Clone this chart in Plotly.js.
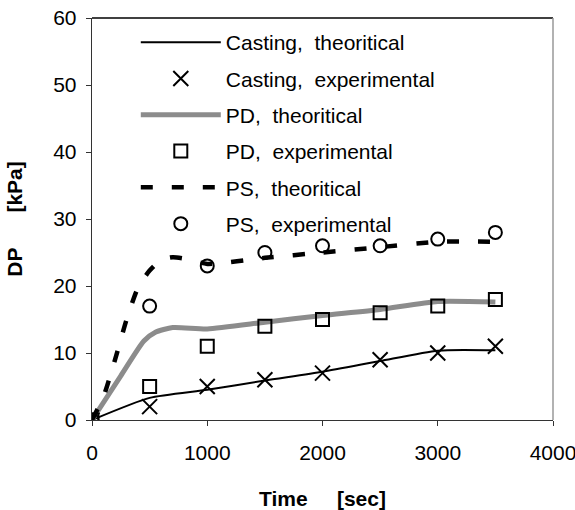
<!DOCTYPE html>
<html>
<head>
<meta charset="utf-8">
<script src="https://cdn.plot.ly/plotly-3.0.1.min.js"></script>
<style>html,body{margin:0;padding:0;background:#fff;}#chart{width:575px;height:510px;}</style>
</head>
<body>
<div id="chart"></div>
<script>
// Experimental data
var tExp = [0, 500, 1000, 1500, 2000, 2500, 3000, 3500];
var castingExp = [0, 2, 5, 6, 7, 9, 10, 11];
var pdExp = [0, 5, 11, 14, 15, 16, 17, 18];
var psExp = [0, 17, 23, 25, 26, 26, 27, 28];

// Theoretical curves
var tCastTheo = [0, 500, 1000, 1500, 2000, 2500, 3000, 3500];
var castingTheo = [0, 3.3, 4.5, 5.9, 7.2, 8.8, 10.35, 10.4];
var tPdTheo = [0, 250, 450, 550, 700, 1000, 1500, 2000, 2500, 3000, 3500];
var pdTheo = [0, 6.6, 11.8, 13.1, 13.8, 13.6, 14.6, 15.6, 16.5, 17.7, 17.6];
var tPsTheo = [0, 100, 200, 300, 400, 500, 600, 700, 800, 1000, 1500, 2000, 2500, 3000, 3500];
var psTheo = [0, 3.5, 9, 15, 19.8, 22.3, 23.9, 24.3, 24.1, 23.3, 24.2, 25, 25.8, 26.6, 26.6];

// Axis ticks
var xTicks = [0, 1000, 2000, 3000, 4000];
var yTicks = [0, 10, 20, 30, 40, 50, 60];

var names = ['Casting,\u00a0 theoritical', 'Casting,\u00a0 experimental', 'PD,\u00a0 theoritical',
             'PD,\u00a0 experimental', 'PS,\u00a0 theoritical', 'PS,\u00a0 experimental'];

var FONT = '"Liberation Sans", Arial, sans-serif';

var traces = [
  {x: tCastTheo, y: castingTheo, name: names[0], mode: 'lines', legendgroup: 'g1',
   line: {color: '#000', width: 2, shape: 'spline', smoothing: 0.6}},
  {x: tExp, y: castingExp, name: names[1], mode: 'markers', legendgroup: 'g2',
   marker: {symbol: 'x-thin-open', size: 15, color: '#000', line: {color: '#000', width: 2}}},
  {x: tPdTheo, y: pdTheo, name: names[2], mode: 'lines', legendgroup: 'g3',
   line: {color: '#8c8c8c', width: 5, shape: 'spline', smoothing: 0.6}},
  {x: tExp, y: pdExp, name: names[3], mode: 'markers', legendgroup: 'g4',
   marker: {symbol: 'square-open', size: 13, color: '#000', line: {color: '#000', width: 2}}},
  {x: tPsTheo, y: psTheo, name: names[4], mode: 'lines', legendgroup: 'g5',
   line: {color: '#000', width: 4.5, dash: '12px,19px', shape: 'spline', smoothing: 0.6}},
  {x: tExp, y: psExp, name: names[5], mode: 'markers', legendgroup: 'g6',
   marker: {symbol: 'circle-open', size: 13, color: '#000', line: {color: '#000', width: 2}}}
];

var layout = {
  width: 575, height: 510,
  margin: {l: 92, r: 22, t: 18, b: 90},
  paper_bgcolor: '#fff', plot_bgcolor: '#fff',
  font: {family: FONT, size: 21, color: '#000'},
  showlegend: true,
  legend: {x: 0.095, y: 0.99, xanchor: 'left', yanchor: 'top', bgcolor: 'rgba(0,0,0,0)',
           borderwidth: 0, itemwidth: 80, tracegroupgap: 6, font: {family: FONT, size: 21, color: '#000'}},
  xaxis: {range: [0, 4000], tickmode: 'array', tickvals: xTicks, ticktext: xTicks.map(String),
          ticks: 'outside', ticklen: 5, tickcolor: '#333', ticklabelstandoff: 8, ticklabeloverflow: 'allow',
          showline: true, linecolor: '#333', linewidth: 1.3, showgrid: false, zeroline: false,
          tickfont: {family: FONT, size: 21, color: '#000'},
          title: {text: '<b>Time\u00a0\u00a0\u00a0\u00a0\u00a0[sec]</b>', font: {family: FONT, size: 21, color: '#000'}, standoff: 28}},
  yaxis: {range: [0, 60], tickmode: 'array', tickvals: yTicks, ticktext: yTicks.map(String),
          ticks: 'outside', ticklen: 5, tickcolor: '#333', ticklabelstandoff: 5, ticklabeloverflow: 'allow',
          showline: true, linecolor: '#333', linewidth: 1.3, showgrid: false, zeroline: false,
          tickfont: {family: FONT, size: 21, color: '#000'},
          title: {text: '<b>DP\u00a0\u00a0\u00a0\u00a0\u00a0\u00a0[kPa]</b>', font: {family: FONT, size: 21, color: '#000'}, standoff: 24}},
  shapes: [
    {type: 'line', xref: 'paper', yref: 'paper', x0: 0, x1: 1, y0: 1, y1: 1, line: {color: '#000', width: 1.3}},
    {type: 'line', xref: 'paper', yref: 'paper', x0: 1, x1: 1, y0: 0, y1: 1, line: {color: '#999', width: 1.5}}
  ]
};

Plotly.newPlot('chart', traces, layout, {displayModeBar: false, staticPlot: true});
</script>
</body>
</html>
